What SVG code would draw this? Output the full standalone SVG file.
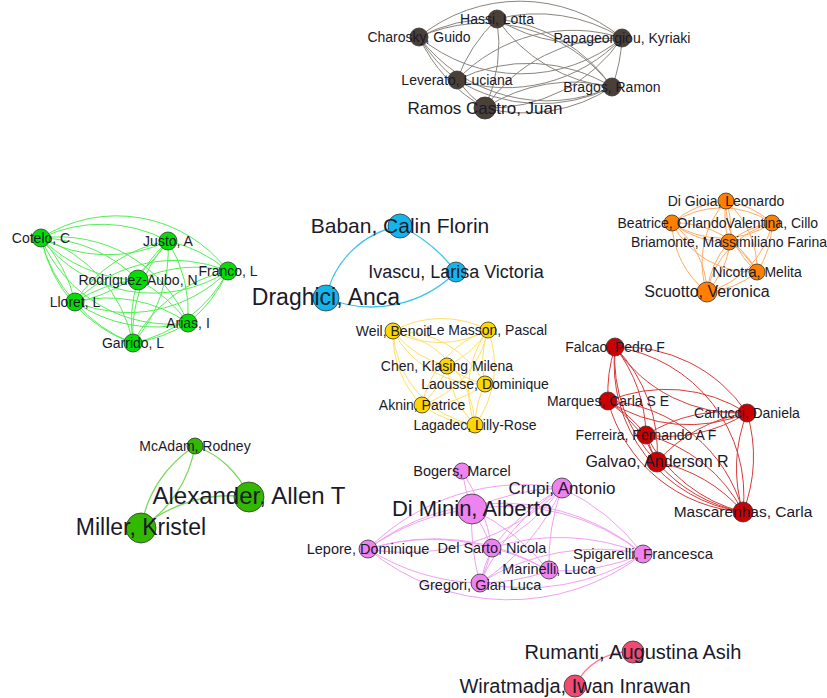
<svg xmlns="http://www.w3.org/2000/svg" width="827" height="698" viewBox="0 0 827 698">
<style>
.edges path{fill:none;stroke-width:1}
.k path{stroke:#8a8580}
.g1 path{stroke:#55ee55}
.bl path{stroke:#3cc4ee;stroke-width:1.3}
.or path{stroke:#ffac66}
.ye path{stroke:#ffe066}
.rd path{stroke:#d83a3a}
.g2 path{stroke:#7ed65a;stroke-width:1.3}
.pk path{stroke:#f2a0f2}
.cr path{stroke:#ff7a99;stroke-width:1.3}
circle{stroke:#333;stroke-width:0.8}
text{font-family:"Liberation Sans",Arial,sans-serif;font-size:14px;fill:#1a1a2a;text-anchor:middle}
.ck{fill:#4a4037}.cg1{fill:#00e000}.cbl{fill:#13b5ea}.cor{fill:#ff8000}.cye{fill:#ffd700}.crd{fill:#cc0000}.cg2{fill:#33b800}.cpk{fill:#ee82ee}.ccr{fill:#f04a72}
</style>
<rect width="827" height="698" fill="#fff"/>
<g id="connectors" class="edges">
<g class="k">
<path d="M497 19 A160 160 0 0 0 419 37"/>
<path d="M497 19 A160 160 0 0 0 622 38"/><path d="M497 19 A160 160 0 0 1 622 38"/>
<path d="M497 19 A160 160 0 0 0 457 80"/>
<path d="M497 19 A160 160 0 0 0 612 87"/><path d="M497 19 A160 160 0 0 1 612 87"/>
<path d="M497 19 A160 160 0 0 1 485 108"/>
<path d="M419 37 A160 160 0 0 0 622 38"/><path d="M419 37 A160 160 0 0 1 622 38"/>
<path d="M419 37 A160 160 0 0 0 457 80"/>
<path d="M419 37 A160 160 0 0 0 612 87"/><path d="M419 37 A160 160 0 0 1 612 87"/>
<path d="M419 37 A160 160 0 0 0 485 108"/>
<path d="M622 38 A160 160 0 0 0 457 80"/><path d="M622 38 A160 160 0 0 1 457 80"/>
<path d="M622 38 A160 160 0 0 1 612 87"/>
<path d="M622 38 A160 160 0 0 0 485 108"/><path d="M622 38 A160 160 0 0 1 485 108"/>
<path d="M457 80 A160 160 0 0 0 612 87"/><path d="M457 80 A160 160 0 0 1 612 87"/>
<path d="M457 80 A160 160 0 0 0 485 108"/>
<path d="M612 87 A160 160 0 0 0 485 108"/><path d="M612 87 A160 160 0 0 1 485 108"/>
</g>
<g class="g1">
<path d="M41 238 A140 140 0 0 0 168 241"/><path d="M41 238 A140 140 0 0 1 168 241"/>
<path d="M41 238 A140 140 0 0 0 228 271"/><path d="M41 238 A140 140 0 0 1 228 271"/>
<path d="M41 238 A140 140 0 0 0 138 280"/><path d="M41 238 A140 140 0 0 1 138 280"/>
<path d="M41 238 A140 140 0 0 0 75 302"/><path d="M41 238 A140 140 0 0 1 75 302"/>
<path d="M41 238 A140 140 0 0 0 188 323"/><path d="M41 238 A140 140 0 0 1 188 323"/>
<path d="M41 238 A140 140 0 0 0 133 343"/><path d="M41 238 A140 140 0 0 1 133 343"/>
<path d="M168 241 A140 140 0 0 1 228 271"/>
<path d="M168 241 A140 140 0 0 0 138 280"/>
<path d="M168 241 A140 140 0 0 0 75 302"/><path d="M168 241 A140 140 0 0 1 75 302"/>
<path d="M168 241 A140 140 0 0 1 188 323"/>
<path d="M168 241 A140 140 0 0 0 133 343"/><path d="M168 241 A140 140 0 0 1 133 343"/>
<path d="M228 271 A140 140 0 0 0 138 280"/>
<path d="M228 271 A140 140 0 0 0 75 302"/><path d="M228 271 A140 140 0 0 1 75 302"/>
<path d="M228 271 A140 140 0 0 1 188 323"/>
<path d="M228 271 A140 140 0 0 0 133 343"/><path d="M228 271 A140 140 0 0 1 133 343"/>
<path d="M138 280 A140 140 0 0 0 75 302"/>
<path d="M138 280 A140 140 0 0 1 188 323"/>
<path d="M138 280 A140 140 0 0 0 133 343"/>
<path d="M75 302 A140 140 0 0 0 188 323"/><path d="M75 302 A140 140 0 0 1 188 323"/>
<path d="M75 302 A140 140 0 0 0 133 343"/>
<path d="M188 323 A140 140 0 0 1 133 343"/>
</g>
<g class="bl">
<path d="M400 226 A92 92 0 0 0 326 298"/>
<path d="M326 298 A120 120 0 0 0 456 272"/>
<path d="M456 272 A150 150 0 0 0 400 226"/>
</g>
<g class="or">
<path d="M726 201 A90 90 0 0 0 672 223"/>
<path d="M726 201 A90 90 0 0 1 772 223"/>
<path d="M726 201 A90 90 0 0 0 729 242"/>
<path d="M726 201 A90 90 0 0 0 757 272"/><path d="M726 201 A90 90 0 0 1 757 272"/>
<path d="M726 201 A90 90 0 0 0 707 292"/><path d="M726 201 A90 90 0 0 1 707 292"/>
<path d="M672 223 A90 90 0 0 0 772 223"/><path d="M672 223 A90 90 0 0 1 772 223"/>
<path d="M672 223 A90 90 0 0 0 729 242"/>
<path d="M672 223 A90 90 0 0 0 757 272"/><path d="M672 223 A90 90 0 0 1 757 272"/>
<path d="M672 223 A90 90 0 0 0 707 292"/><path d="M672 223 A90 90 0 0 1 707 292"/>
<path d="M772 223 A90 90 0 0 0 729 242"/>
<path d="M772 223 A90 90 0 0 1 757 272"/>
<path d="M772 223 A90 90 0 0 0 707 292"/><path d="M772 223 A90 90 0 0 1 707 292"/>
<path d="M729 242 A90 90 0 0 1 757 272"/>
<path d="M729 242 A90 90 0 0 0 707 292"/>
<path d="M757 272 A90 90 0 0 1 707 292"/>
</g>
<g class="ye">
<path d="M393 331 A100 100 0 0 0 488 330"/><path d="M393 331 A100 100 0 0 1 488 330"/>
<path d="M393 331 A100 100 0 0 0 447 366"/>
<path d="M393 331 A100 100 0 0 0 485 384"/><path d="M393 331 A100 100 0 0 1 485 384"/>
<path d="M393 331 A100 100 0 0 0 422 405"/>
<path d="M393 331 A100 100 0 0 0 475 425"/><path d="M393 331 A100 100 0 0 1 475 425"/>
<path d="M488 330 A100 100 0 0 1 447 366"/>
<path d="M488 330 A100 100 0 0 0 485 384"/>
<path d="M488 330 A100 100 0 0 0 422 405"/><path d="M488 330 A100 100 0 0 1 422 405"/>
<path d="M488 330 A100 100 0 0 0 475 425"/><path d="M488 330 A100 100 0 0 1 475 425"/>
<path d="M447 366 A100 100 0 0 0 485 384"/>
<path d="M447 366 A100 100 0 0 1 422 405"/>
<path d="M447 366 A100 100 0 0 0 475 425"/>
<path d="M485 384 A100 100 0 0 1 422 405"/>
<path d="M485 384 A100 100 0 0 0 475 425"/>
<path d="M422 405 A100 100 0 0 0 475 425"/>
</g>
<g class="rd">
<path d="M615 347 A150 150 0 0 0 608 401"/>
<path d="M615 347 A150 150 0 0 0 747 413"/><path d="M615 347 A150 150 0 0 1 747 413"/>
<path d="M615 347 A150 150 0 0 1 646 435"/>
<path d="M615 347 A150 150 0 0 0 657 462"/><path d="M615 347 A150 150 0 0 1 657 462"/>
<path d="M615 347 A150 150 0 0 0 743 512"/><path d="M615 347 A150 150 0 0 1 743 512"/>
<path d="M608 401 A150 150 0 0 0 747 413"/><path d="M608 401 A150 150 0 0 1 747 413"/>
<path d="M608 401 A150 150 0 0 1 646 435"/>
<path d="M608 401 A150 150 0 0 1 657 462"/>
<path d="M608 401 A150 150 0 0 0 743 512"/><path d="M608 401 A150 150 0 0 1 743 512"/>
<path d="M747 413 A150 150 0 0 0 646 435"/><path d="M747 413 A150 150 0 0 1 646 435"/>
<path d="M747 413 A150 150 0 0 0 657 462"/>
<path d="M747 413 A150 150 0 0 0 743 512"/><path d="M747 413 A150 150 0 0 1 743 512"/>
<path d="M646 435 A150 150 0 0 0 657 462"/>
<path d="M646 435 A150 150 0 0 0 743 512"/><path d="M646 435 A150 150 0 0 1 743 512"/>
<path d="M657 462 A150 150 0 0 0 743 512"/><path d="M657 462 A150 150 0 0 1 743 512"/>
</g>
<g class="g2">
<path d="M195 446 A90 90 0 0 1 249 497"/>
<path d="M195 446 A120 120 0 0 1 141 528"/><path d="M195 446 A120 120 0 0 0 141 528"/>
<path d="M249 497 A140 140 0 0 0 141 528"/>
</g>
<g class="pk">
<path d="M462 471 A200 200 0 0 0 472 509"/>
<path d="M462 471 A200 200 0 0 1 492 548"/>
<path d="M562 488 A220 220 0 0 0 472 509"/>
<path d="M562 488 A220 220 0 0 0 368 549"/><path d="M562 488 A220 220 0 0 1 368 549"/>
<path d="M562 488 A220 220 0 0 0 492 548"/><path d="M562 488 A220 220 0 0 1 492 548"/>
<path d="M562 488 A220 220 0 0 1 643 554"/>
<path d="M562 488 A220 220 0 0 0 549 571"/>
<path d="M562 488 A220 220 0 0 0 480 583"/><path d="M562 488 A220 220 0 0 1 480 583"/>
<path d="M472 509 A220 220 0 0 0 368 549"/>
<path d="M472 509 A220 220 0 0 1 492 548"/>
<path d="M472 509 A220 220 0 0 1 643 554"/>
<path d="M472 509 A220 220 0 0 1 549 571"/>
<path d="M472 509 A220 220 0 0 0 480 583"/>
<path d="M368 549 A220 220 0 0 1 492 548"/>
<path d="M368 549 A220 220 0 0 0 643 554"/><path d="M368 549 A220 220 0 0 1 643 554"/>
<path d="M368 549 A220 220 0 0 1 549 571"/>
<path d="M368 549 A220 220 0 0 0 480 583"/>
<path d="M492 548 A220 220 0 0 1 643 554"/>
<path d="M492 548 A220 220 0 0 1 549 571"/>
<path d="M492 548 A220 220 0 0 0 480 583"/><path d="M492 548 A220 220 0 0 1 480 583"/>
<path d="M643 554 A220 220 0 0 1 549 571"/>
<path d="M643 554 A220 220 0 0 0 480 583"/><path d="M643 554 A220 220 0 0 1 480 583"/>
<path d="M549 571 A220 220 0 0 1 480 583"/>
</g>
<g class="cr">
<path d="M633 652 A60 60 0 0 0 575 686"/>
</g>
</g>
<g id="n-hassi"><circle class="ck" cx="497" cy="19" r="9"/><text x="497" y="19" dy="0.33em">Hassi, Lotta</text></g>
<g id="n-charosky"><circle class="ck" cx="419" cy="37" r="9"/><text x="419" y="37" dy="0.33em">Charosky, Guido</text></g>
<g id="n-papageorgiou"><circle class="ck" cx="622" cy="38" r="9"/><text x="622" y="38" dy="0.33em">Papageorgiou, Kyriaki</text></g>
<g id="n-leverato"><circle class="ck" cx="457" cy="80" r="9"/><text x="457" y="80" dy="0.33em">Leverato, Luciana</text></g>
<g id="n-bragos"><circle class="ck" cx="612" cy="87" r="9"/><text x="612" y="87" dy="0.33em">Bragos, Ramon</text></g>
<g id="n-ramos"><circle class="ck" cx="485" cy="108" r="11"/><text x="485" y="108" dy="0.33em" style="font-size:17px">Ramos Castro, Juan</text></g>
<g id="n-cotelo"><circle class="cg1" cx="41" cy="238" r="9"/><text x="41" y="238" dy="0.33em">Cotelo, C</text></g>
<g id="n-justo"><circle class="cg1" cx="168" cy="241" r="9"/><text x="168" y="241" dy="0.33em">Justo, A</text></g>
<g id="n-franco"><circle class="cg1" cx="228" cy="271" r="9"/><text x="228" y="271" dy="0.33em">Franco, L</text></g>
<g id="n-rodriguez"><circle class="cg1" cx="138" cy="280" r="10"/><text x="138" y="280" dy="0.33em">Rodriguez-Aubo, N</text></g>
<g id="n-lloret"><circle class="cg1" cx="75" cy="302" r="9"/><text x="75" y="302" dy="0.33em">Lloret, L</text></g>
<g id="n-arias"><circle class="cg1" cx="188" cy="323" r="9"/><text x="188" y="323" dy="0.33em">Arias, I</text></g>
<g id="n-garrido"><circle class="cg1" cx="133" cy="343" r="9"/><text x="133" y="343" dy="0.33em">Garrido, L</text></g>
<g id="n-baban"><circle class="cbl" cx="400" cy="226" r="12"/><text x="400" y="226" dy="0.33em" style="font-size:21px">Baban, Calin Florin</text></g>
<g id="n-ivascu"><circle class="cbl" cx="456" cy="272" r="10"/><text x="456" y="272" dy="0.33em" style="font-size:18px">Ivascu, Larisa Victoria</text></g>
<g id="n-draghici"><circle class="cbl" cx="326" cy="298" r="13"/><text x="326" y="298" dy="0.3em" style="font-size:23px">Draghici, Anca</text></g>
<g id="n-digioia"><circle class="cor" cx="726" cy="201" r="8"/><text x="726" y="201" dy="0.33em">Di Gioia, Leonardo</text></g>
<g id="n-beatrice"><circle class="cor" cx="672" cy="223" r="8"/><text x="672" y="223" dy="0.33em">Beatrice, Orlando</text></g>
<g id="n-valentina"><circle class="cor" cx="772" cy="223" r="8"/><text x="772" y="223" dy="0.33em">Valentina, Cillo</text></g>
<g id="n-briamonte"><circle class="cor" cx="729" cy="242" r="8"/><text x="729" y="242" dy="0.33em">Briamonte, Massimiliano Farina</text></g>
<g id="n-nicotra"><circle class="cor" cx="757" cy="272" r="8"/><text x="757" y="272" dy="0.33em">Nicotra, Melita</text></g>
<g id="n-scuotto"><circle class="cor" cx="707" cy="292" r="10"/><text x="707" y="292" dy="0.33em" style="font-size:16px">Scuotto, Veronica</text></g>
<g id="n-weil"><circle class="cye" cx="393" cy="331" r="8"/><text x="393" y="331" dy="0.33em">Weil, Benoit</text></g>
<g id="n-lemasson"><circle class="cye" cx="488" cy="330" r="8"/><text x="488" y="330" dy="0.33em">Le Masson, Pascal</text></g>
<g id="n-chen"><circle class="cye" cx="447" cy="366" r="8"/><text x="447" y="366" dy="0.33em">Chen, Klasing Milena</text></g>
<g id="n-laousse"><circle class="cye" cx="485" cy="384" r="8"/><text x="485" y="384" dy="0.33em">Laousse, Dominique</text></g>
<g id="n-aknin"><circle class="cye" cx="422" cy="405" r="8"/><text x="422" y="405" dy="0.33em">Aknin, Patrice</text></g>
<g id="n-lagadec"><circle class="cye" cx="475" cy="425" r="8"/><text x="475" y="425" dy="0.33em">Lagadec, Lilly-Rose</text></g>
<g id="n-falcao"><circle class="crd" cx="615" cy="347" r="9"/><text x="615" y="347" dy="0.33em">Falcao, Pedro F</text></g>
<g id="n-marques"><circle class="crd" cx="608" cy="401" r="9"/><text x="608" y="401" dy="0.33em">Marques, Carla S E</text></g>
<g id="n-carlucci"><circle class="crd" cx="747" cy="413" r="9"/><text x="747" y="413" dy="0.33em">Carlucci, Daniela</text></g>
<g id="n-ferreira"><circle class="crd" cx="646" cy="435" r="9"/><text x="646" y="435" dy="0.33em">Ferreira, Fernando A F</text></g>
<g id="n-galvao"><circle class="crd" cx="657" cy="462" r="10"/><text x="657" y="462" dy="0.33em" style="font-size:16px">Galvao, Anderson R</text></g>
<g id="n-mascarenhas"><circle class="crd" cx="743" cy="512" r="10"/><text x="743" y="512" dy="0.33em" style="font-size:15.5px">Mascarenhas, Carla</text></g>
<g id="n-mcadam"><circle class="cg2" cx="195" cy="446" r="8"/><text x="195" y="446" dy="0.33em">McAdam, Rodney</text></g>
<g id="n-alexander"><circle class="cg2" cx="249" cy="497" r="15"/><text x="249" y="497" dy="0.3em" style="font-size:24px">Alexander, Allen T</text></g>
<g id="n-miller"><circle class="cg2" cx="141" cy="528" r="15"/><text x="141" y="528" dy="0.3em" style="font-size:23px">Miller, Kristel</text></g>
<g id="n-bogers"><circle class="cpk" cx="462" cy="471" r="8"/><text x="462" y="471" dy="0.33em" style="font-size:14.5px">Bogers, Marcel</text></g>
<g id="n-crupi"><circle class="cpk" cx="562" cy="488" r="10"/><text x="562" y="488" dy="0.33em" style="font-size:17px">Crupi, Antonio</text></g>
<g id="n-diminin"><circle class="cpk" cx="472" cy="509" r="15"/><text x="472" y="509" dy="0.3em" style="font-size:22px">Di Minin, Alberto</text></g>
<g id="n-lepore"><circle class="cpk" cx="368" cy="549" r="9"/><text x="368" y="549" dy="0.33em" style="font-size:14.5px">Lepore, Dominique</text></g>
<g id="n-delsarto"><circle class="cpk" cx="492" cy="548" r="9"/><text x="492" y="548" dy="0.33em" style="font-size:14.5px">Del Sarto, Nicola</text></g>
<g id="n-spigarelli"><circle class="cpk" cx="643" cy="554" r="9"/><text x="643" y="554" dy="0.33em" style="font-size:15px">Spigarelli, Francesca</text></g>
<g id="n-marinelli"><circle class="cpk" cx="549" cy="570" r="9"/><text x="549" y="569" dy="0.33em" style="font-size:14.5px">Marinelli, Luca</text></g>
<g id="n-gregori"><circle class="cpk" cx="480" cy="583" r="9"/><text x="480" y="585" dy="0.33em" style="font-size:14.5px">Gregori, Gian Luca</text></g>
<g id="n-rumanti"><circle class="ccr" cx="633" cy="652" r="11"/><text x="633" y="652" dy="0.33em" style="font-size:20px">Rumanti, Augustina Asih</text></g>
<g id="n-wiratmadja"><circle class="ccr" cx="575" cy="686" r="11"/><text x="575" y="686" dy="0.33em" style="font-size:20px">Wiratmadja, Iwan Inrawan</text></g>
</svg>
